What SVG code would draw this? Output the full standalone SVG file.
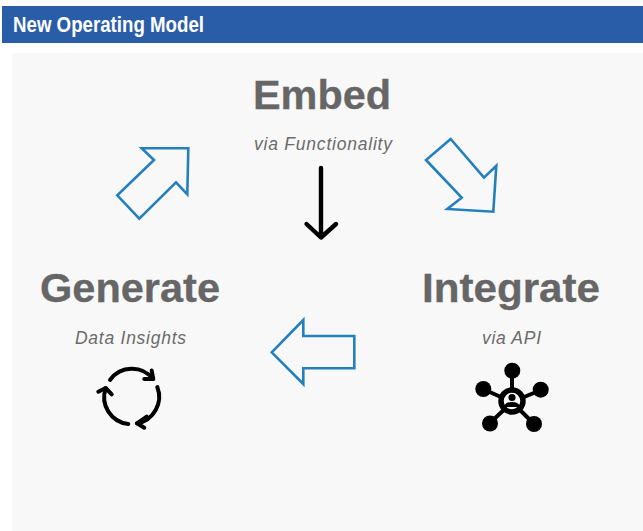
<svg xmlns="http://www.w3.org/2000/svg" width="643" height="531" viewBox="0 0 643 531">
<style>
.t{font-family:"Liberation Sans",Arial,sans-serif;font-weight:700;font-size:41px;fill:#666;stroke:#666;stroke-width:.3}
.s{font-family:"Liberation Sans",Arial,sans-serif;font-style:italic;font-size:17.500px;fill:#6b6b6b}
.a{fill:none;stroke:#2380bd;stroke-width:2.6;stroke-linejoin:miter}
.k{fill:none;stroke:#000;stroke-linecap:round;stroke-linejoin:round}
</style>
<rect width="643" height="531" fill="#fff"/>
<rect x="12" y="53" width="631" height="478" fill="#f8f8f8"/>
<g id="header"><rect x="2" y="6" width="641" height="37" fill="#2a5da8"/>
<text x="13" y="32" textLength="191" lengthAdjust="spacingAndGlyphs" font-family="Liberation Sans,sans-serif" font-weight="700" font-size="22" fill="#fff">New Operating Model</text></g>
<g id="embed"><text class="t" x="253" y="109" textLength="138" lengthAdjust="spacingAndGlyphs">Embed</text><text class="s" x="254" y="150" textLength="138" lengthAdjust="spacing">via Functionality</text></g>
<g id="generate"><text class="t" x="40" y="302" textLength="180" lengthAdjust="spacingAndGlyphs">Generate</text><text class="s" x="75" y="344" textLength="111" lengthAdjust="spacing">Data Insights</text>
<g class="k" stroke-width="4"><path d="M110 380A27 27 0 0 1 153 379"/><path d="M144.300 379L153.300 379L151.700 370.500"/><path d="M157.300 387A27 27 0 0 1 137 423.300"/><path d="M146.700 416.700L137 423.300L144.300 427.700"/><path d="M128.300 424A27 27 0 0 1 105.700 388.300"/><path d="M98.300 391.700L105.700 388L111.700 394.300"/></g></g>
<g id="integrate"><text class="t" x="422" y="302" textLength="178" lengthAdjust="spacingAndGlyphs">Integrate</text><text class="s" x="482" y="344" textLength="59" lengthAdjust="spacing">via API</text>
<g><path d="M512 371V402M483 389L512 402M541 390L512 402M490 423L512 402M534 424L512 402" stroke="#000" stroke-width="4" fill="none"/>
<circle cx="512.300" cy="370.700" r="8"/><circle cx="483.300" cy="389" r="8"/><circle cx="540.700" cy="389.700" r="8"/><circle cx="490" cy="423.500" r="8"/><circle cx="534" cy="424" r="8"/>
<circle cx="512" cy="401" r="11" fill="#fff" stroke="#000" stroke-width="5.500"/>
<circle cx="512" cy="397.500" r="3.600"/><path d="M504 407Q505 402 512 402Q519 402 520 407Z"/></g></g>
<g id="connectors">
<path class="a" d="M141.700 148.300H188.300L187.300 194.300L176 182.300L139.300 218.700L117.300 195.300L154 160Z"/>
<path class="a" d="M450.700 139L426 160L461.700 197.700L447.300 209L493.300 211.700L496.300 165.700L484 177.700Z"/>
<path class="a" d="M271.700 352.300L303.300 320V336H354.300V368.300H303.300V384Z"/>
<path class="k" stroke-width="4.400" d="M321 168V237M306.500 224L321 237.500L336 224"/>
</g>
</svg>
